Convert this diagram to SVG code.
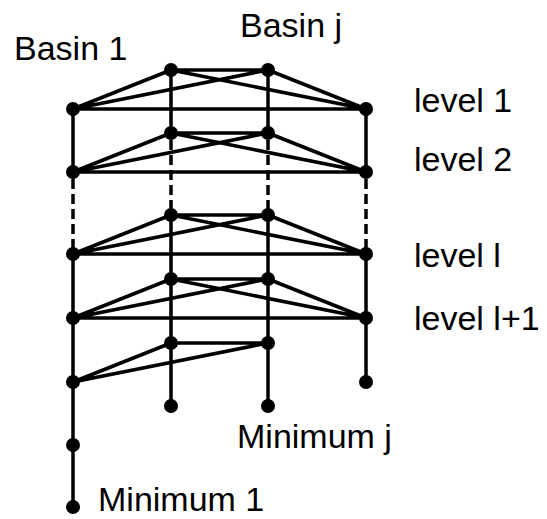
<svg xmlns="http://www.w3.org/2000/svg" width="547" height="519" viewBox="0 0 547 519">
<style>
.e{stroke:#000;stroke-width:3.5;fill:none;stroke-linecap:butt}
.d{stroke-dasharray:10 5}
.n{fill:#000}
text{font-family:"Liberation Sans",Arial,sans-serif;font-size:34px;fill:#000}
</style>
<rect width="547" height="519" fill="#fff"/>
<g id="connectors" class="e">
<path d="M73 109V172M73 254V507"/>
<path class="d" d="M73 179V254"/>
<path d="M171 70V133M171 215V406"/>
<path class="d" d="M171 140V215"/>
<path d="M268 70V133M268 215V406"/>
<path class="d" d="M268 140V215"/>
<path d="M366 109V172M366 254V382"/>
<path class="d" d="M366 179V254"/>
<path d="M171 70H268M73 109H366M73 109L171 70M73 109L268 70M366 109L171 70M366 109L268 70"/>
<path d="M171 133H268M73 172H366M73 172L171 133M73 172L268 133M366 172L171 133M366 172L268 133"/>
<path d="M171 215H268M73 254H366M73 254L171 215M73 254L268 215M366 254L171 215M366 254L268 215"/>
<path d="M171 279H268M73 318H366M73 318L171 279M73 318L268 279M366 318L171 279M366 318L268 279"/>
<path d="M171 343H268M73 382L171 343M73 382L268 343"/>
</g>
<g id="nodes" class="n">
<g id="l1"><circle cx="171" cy="70" r="7"/><circle cx="268" cy="70" r="7"/><circle cx="73" cy="109" r="7"/><circle cx="366" cy="109" r="7"/></g>
<g id="l2"><circle cx="171" cy="133" r="7"/><circle cx="268" cy="133" r="7"/><circle cx="73" cy="172" r="7"/><circle cx="366" cy="172" r="7"/></g>
<g id="ll"><circle cx="171" cy="215" r="7"/><circle cx="268" cy="215" r="7"/><circle cx="73" cy="254" r="7"/><circle cx="366" cy="254" r="7"/></g>
<g id="ll1"><circle cx="171" cy="279" r="7"/><circle cx="268" cy="279" r="7"/><circle cx="73" cy="318" r="7"/><circle cx="366" cy="318" r="7"/></g>
<g id="lb"><circle cx="171" cy="343" r="7"/><circle cx="268" cy="343" r="7"/><circle cx="73" cy="382" r="7"/><circle cx="366" cy="382" r="7"/></g>
<g id="mins"><circle cx="171" cy="406" r="7"/><circle cx="268" cy="406" r="7"/><circle cx="73" cy="445" r="7"/><circle cx="73" cy="507" r="7"/></g>
</g>
<g id="labels">
<text x="14" y="60">Basin 1</text>
<text x="240" y="37">Basin j</text>
<text x="414" y="112">level 1</text>
<text x="414" y="171">level 2</text>
<text x="414" y="267">level l</text>
<text x="414" y="330">level l+1</text>
<text x="237" y="448">Minimum j</text>
<text x="98" y="511">Minimum 1</text>
</g>
</svg>
